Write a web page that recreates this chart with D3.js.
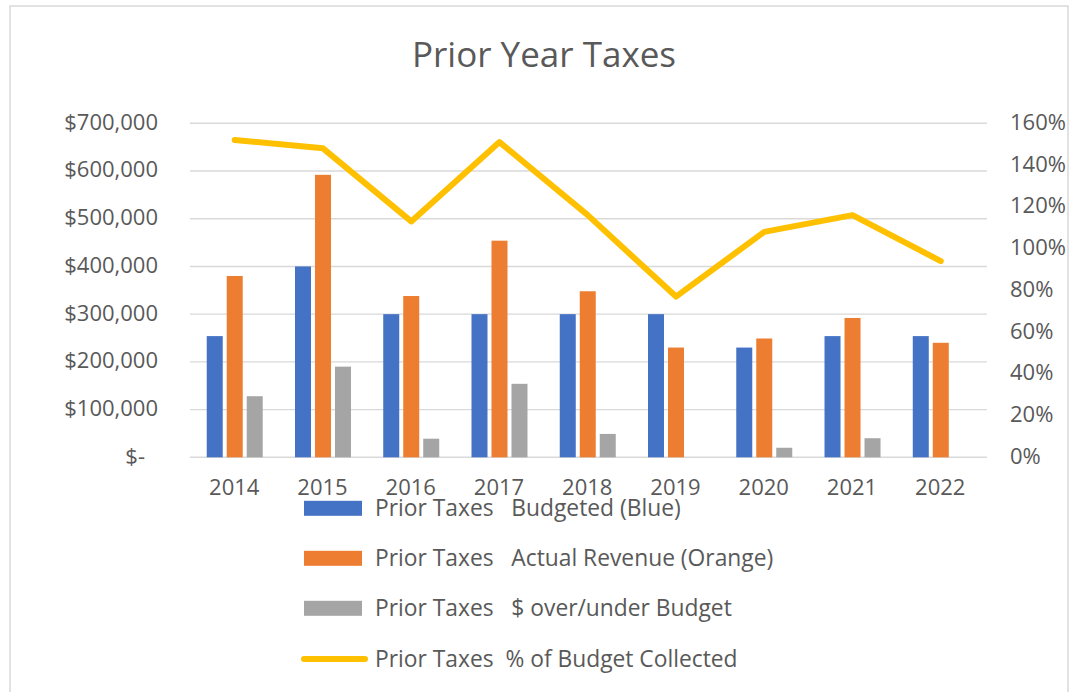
<!DOCTYPE html>
<html>
<head>
<meta charset="utf-8">
<script src="https://cdn.jsdelivr.net/npm/d3@7"></script>
<style>
  html, body { margin: 0; padding: 0; background: #fff; }
  svg { display: block; font-family: "Open Sans", "Noto Sans", sans-serif; }
  text { fill: #595959; white-space: pre; }
</style>
</head>
<body>
<svg id="chart" width="1071" height="692"></svg>
<script>
// Prior year tax collections by fiscal year
const years = ["2014", "2015", "2016", "2017", "2018", "2019", "2020", "2021", "2022"];
const budgeted = [254000, 400000, 300000, 300000, 300000, 300000, 230000, 254000, 254000];
const actualRevenue = [380000, 592000, 338000, 454000, 348000, 230000, 249000, 292000, 240000];
const overUnder = [128000, 190000, 39000, 154000, 49000, 0, 20000, 40000, 0];
const pctCollected = [1.52, 1.48, 1.13, 1.51, 1.16, 0.77, 1.08, 1.16, 0.94];

const dollarTicks = [0, 100000, 200000, 300000, 400000, 500000, 600000, 700000];
const pctTicks = [0, 0.2, 0.4, 0.6, 0.8, 1.0, 1.2, 1.4, 1.6];

const legendLabels = [
  "Prior Taxes   Budgeted (Blue)",
  "Prior Taxes   Actual Revenue (Orange)",
  "Prior Taxes   $ over/under Budget",
  "Prior Taxes  % of Budget Collected"
];

const barSeries = [
  { key: "budgeted", values: budgeted, color: "#4472C4" },
  { key: "actual", values: actualRevenue, color: "#ED7D31" },
  { key: "overUnder", values: overUnder, color: "#A5A5A5" }
];
const lineColor = "#FFC000";
const gridColor = "#D9D9D9";
const fontFamily = '"Open Sans", "Noto Sans", sans-serif';

const svg = d3.select("#chart");

// outer chart frame
svg.append("rect")
  .attr("x", 10).attr("y", 6)
  .attr("width", 1058).attr("height", 700)
  .attr("fill", "#fff")
  .attr("stroke", "#D9D9D9")
  .attr("stroke-width", 1.5);

const plotLeft = 190.6, plotRight = 984.9, plotTop = 123.3, plotBottom = 457.3;

const x = d3.scaleBand().domain(years).range([plotLeft, plotRight]).padding(0);
const xSub = d3.scaleBand()
  .domain(barSeries.map(s => s.key))
  .range([-30, 30])
  .paddingInner(0.2)
  .paddingOuter(0.1);
const yLeft = d3.scaleLinear().domain([0, 700000]).range([plotBottom, plotTop]).clamp(true);
const yRight = d3.scaleLinear().domain([0, 1.6]).range([plotBottom, plotTop]);

// title
svg.append("text")
  .attr("x", 544).attr("y", 66.5)
  .attr("text-anchor", "middle")
  .style("font-size", "35px")
  .text("Prior Year Taxes");

// horizontal gridlines
svg.append("g")
  .selectAll("line")
  .data(dollarTicks)
  .join("line")
  .attr("x1", plotLeft - 0.6).attr("x2", plotRight + 2)
  .attr("y1", d => yLeft(d)).attr("y2", d => yLeft(d))
  .attr("stroke", gridColor)
  .attr("stroke-width", 1.4);

// left dollar axis
const fmtDollar = d => d === 0 ? "$-" : "$" + d3.format(",")(d);
const leftAxis = svg.append("g")
  .attr("transform", `translate(${158},0)`)
  .call(d3.axisLeft(yLeft).tickValues(dollarTicks).tickFormat(fmtDollar).tickSize(0).tickPadding(0))
  .attr("font-family", fontFamily)
  .attr("font-size", 22);
leftAxis.select(".domain").remove();
leftAxis.selectAll("text")
  .attr("fill", "#595959")
  .attr("dy", "0.27em")
  .attr("x", d => d === 0 ? -13 : 0);

// right percent axis
const rightAxis = svg.append("g")
  .attr("transform", `translate(${1010},0)`)
  .call(d3.axisRight(yRight).tickValues(pctTicks).tickFormat(d3.format(".0%")).tickSize(0).tickPadding(0))
  .attr("font-family", fontFamily)
  .attr("font-size", 22);
rightAxis.select(".domain").remove();
rightAxis.selectAll("text")
  .attr("fill", "#595959")
  .attr("dy", "0.27em");

// category axis labels
const bottomAxis = svg.append("g")
  .attr("transform", `translate(-0.5,${plotBottom})`)
  .call(d3.axisBottom(x).tickSize(0).tickPadding(0))
  .attr("font-family", fontFamily)
  .attr("font-size", 22);
bottomAxis.select(".domain").remove();
bottomAxis.selectAll("text")
  .attr("fill", "#595959")
  .attr("dy", "0")
  .attr("y", 37.5);

// clustered bars
const groups = svg.append("g")
  .selectAll("g")
  .data(years)
  .join("g")
  .attr("transform", d => `translate(${x(d) + x.bandwidth() / 2},0)`);

groups.selectAll("rect")
  .data((yr, i) => barSeries.map(s => ({ key: s.key, value: s.values[i], color: s.color })))
  .join("rect")
  .attr("x", d => xSub(d.key))
  .attr("width", xSub.bandwidth())
  .attr("y", d => yLeft(d.value))
  .attr("height", d => yLeft(0) - yLeft(d.value))
  .attr("fill", d => d.color);

// percent collected line on the secondary axis
const line = d3.line()
  .x((d, i) => x(years[i]) + x.bandwidth() / 2)
  .y(d => yRight(d));

svg.append("path")
  .datum(pctCollected)
  .attr("d", line)
  .attr("fill", "none")
  .attr("stroke", lineColor)
  .attr("stroke-width", 6)
  .attr("stroke-linejoin", "round")
  .attr("stroke-linecap", "round");

// legend
const legendRows = [508.3, 558.3, 608.3, 659];
const legend = svg.append("g");
legendLabels.forEach((label, i) => {
  const cy = legendRows[i];
  if (i < 3) {
    legend.append("rect")
      .attr("x", 304).attr("y", cy - 7.5)
      .attr("width", 58).attr("height", 15)
      .attr("fill", barSeries[i].color);
  } else {
    legend.append("line")
      .attr("x1", 304).attr("x2", 365)
      .attr("y1", cy).attr("y2", cy)
      .attr("stroke", lineColor)
      .attr("stroke-width", 6)
      .attr("stroke-linecap", "round");
  }
  legend.append("text")
    .attr("x", 375).attr("y", cy + 7.5)
    .style("font-size", "22.8px")
    .text(label);
});
</script>
</body>
</html>
